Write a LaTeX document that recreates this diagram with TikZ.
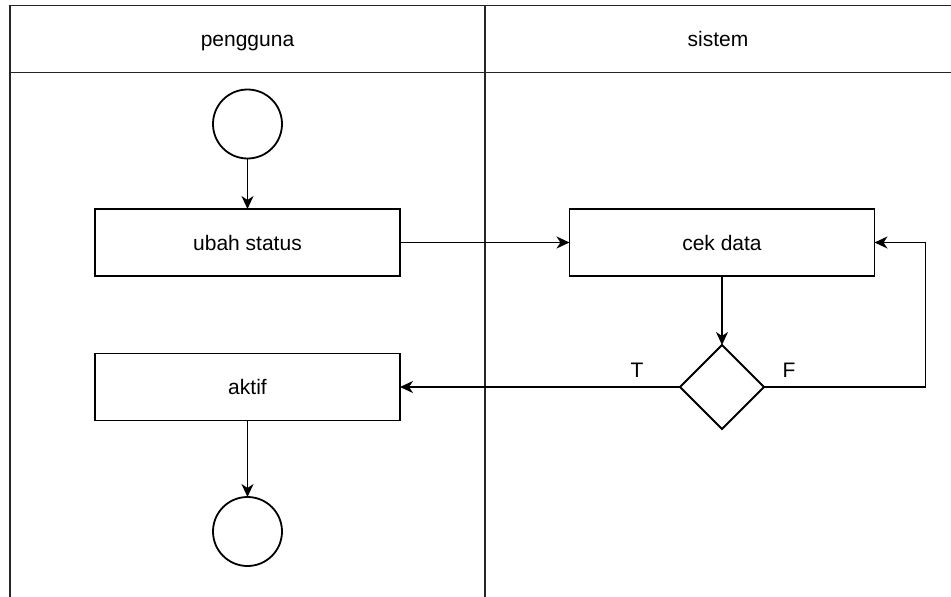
\documentclass[tikz,border=0pt]{standalone}
\usepackage{fontspec}
\setmainfont{Liberation Sans}
\usetikzlibrary{shapes.geometric,arrows.meta}

\tikzset{
  lane/.style={line width=1.8pt, draw=black!85},
  action/.style={draw, line width=1.8pt, rectangle, minimum width=305pt, minimum height=67pt,
                 inner sep=0pt, outer sep=0pt, font=\fontsize{21}{25}\selectfont},
  terminal/.style={draw, line width=1.8pt, circle, minimum size=69pt, inner sep=0pt, outer sep=0pt},
  decision/.style={draw, line width=1.8pt, diamond, minimum width=84pt, minimum height=84pt,
                   inner sep=0pt, outer sep=0pt},
  flow/.style={line width=1.8pt, -{Stealth[length=13pt,width=12pt,inset=4pt]}},
  lanetitle/.style={font=\fontsize{21}{25}\selectfont, anchor=base},
  guard/.style={font=\fontsize{21}{25}\selectfont, anchor=base}
}

\begin{document}
\begin{tikzpicture}[x=1pt,y=-1pt]
  \useasboundingbox (0,0) rectangle (951,597);

  % swimlane frame
  \draw[lane] (10,597) -- (10,5.5) -- (951,5.5);
  \draw[lane] (10,72.5) -- (951,72.5);
  \draw[lane] (485,5.5) -- (485,597);
  \node[lanetitle] (laneA) at (247.5,46.5) {pengguna};
  \node[lanetitle] (laneB) at (718,46.5) {sistem};

  % activity nodes
  \node[terminal] (start) at (247.5,124) {};
  \node[action] (ubah) at (247.5,242.5) {ubah status};
  \node[action] (cek) at (722,242.5) {cek data};
  \node[decision] (dec) at (722,387) {};
  \node[action] (aktif) at (247.5,387) {aktif};
  \node[terminal] (stop) at (247.5,531.5) {};
  \coordinate (loop) at (925.5,387);

  % control flow
  \draw[flow] (start) -- (ubah);
  \draw[flow] (ubah) -- (cek);
  \draw[flow] (cek) -- (dec);
  \draw[flow] (dec.west) -- (aktif.east);
  \draw[flow] (dec.east) -- (loop) |- (cek.east);
  \draw[flow] (aktif) -- (stop);

  % guards
  \node[guard] (gT) at (637,377) {T};
  \node[guard] (gF) at (789,377) {F};
\end{tikzpicture}
\end{document}
